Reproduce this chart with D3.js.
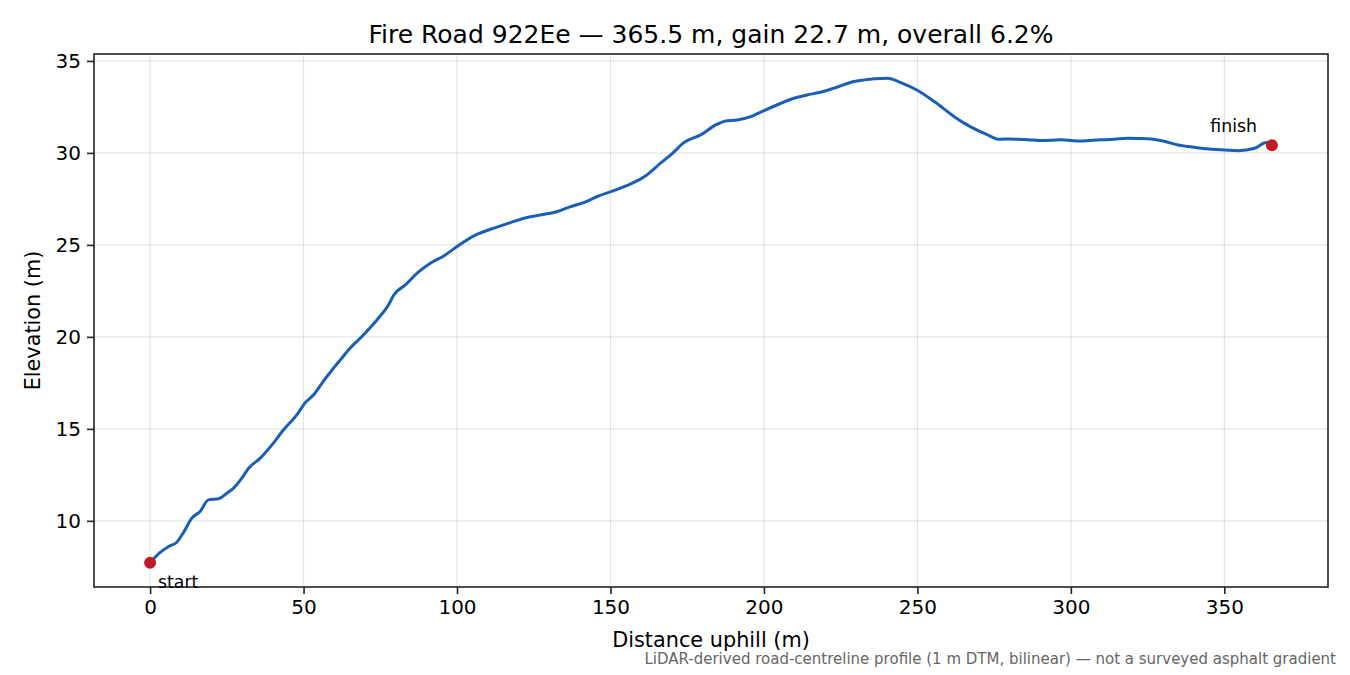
<!DOCTYPE html>
<html>
<head>
<meta charset="utf-8">
<script src="https://cdn.jsdelivr.net/npm/d3@7"></script>
<style>
  html, body { margin: 0; padding: 0; background: #fff; }
  svg { display: block; font-family: "DejaVu Sans", sans-serif; }
  .grid line { stroke: #000; stroke-opacity: 0.1; }
</style>
</head>
<body>
<div id="chart"></div>
<script>
// road profile: distance uphill (m) vs elevation (m)
const distances = [0, 3, 6, 8.7, 11, 13.6, 16.3, 19, 22.3, 25, 27.2, 30, 32.1, 35.9, 39.7, 43.5, 47.8, 50.6,
  53.3, 56.5, 59.3, 62, 65.2, 69, 73.9, 77.7, 79.4, 83.2, 87, 91.3, 95.7, 100, 105.5, 110.9, 117.4, 121.8,
  127.2, 131.6, 137, 141.3, 145.7, 151.1, 156.6, 161.4, 166.3, 170.2, 173.9, 179.4, 184.3, 187.5, 191.3,
  195.7, 200, 205.5, 209.8, 214, 218, 222.9, 229.4, 232.7, 236, 240.3, 244.6, 250.1, 255.5, 262, 267.5,
  272.9, 276.7, 280, 282.7, 286, 290.3, 296.8, 303.3, 306, 309.9, 314, 318.6, 322, 326.2, 330, 334.9, 338,
  342.5, 346, 350.1, 354.5, 359.9, 363.7, 365.5];
const elevations = [7.72, 8.25, 8.6, 8.84, 9.4, 10.15, 10.51, 11.14, 11.2, 11.5, 11.78, 12.35, 12.86, 13.41,
  14.13, 14.95, 15.76, 16.43, 16.85, 17.6, 18.2, 18.75, 19.39, 20.02, 20.92, 21.74, 22.28, 22.83, 23.46, 24.0,
  24.4, 24.91, 25.49, 25.85, 26.21, 26.45, 26.63, 26.76, 27.08, 27.3, 27.63, 27.95, 28.32, 28.75, 29.44,
  29.98, 30.56, 30.98, 31.52, 31.74, 31.79, 31.97, 32.3, 32.7, 32.97, 33.15, 33.28, 33.52, 33.88, 33.97,
  34.03, 34.06, 33.82, 33.39, 32.79, 31.97, 31.4, 30.98, 30.74, 30.76, 30.74, 30.72, 30.67, 30.71, 30.65,
  30.68, 30.71, 30.74, 30.8, 30.79, 30.76, 30.65, 30.43, 30.35, 30.25, 30.2, 30.16, 30.12, 30.25, 30.56, 30.42];
const xTicks = [0, 50, 100, 150, 200, 250, 300, 350];
const yTicks = [10, 15, 20, 25, 30, 35];
const endpoints = [
  { label: "start", d: distances[0], e: elevations[0] },
  { label: "finish", d: distances[distances.length - 1], e: elevations[elevations.length - 1] },
];

const width = 1350;
const height = 675;
const margin = { top: 54, right: 22, bottom: 88, left: 94 };

const svg = d3.select("#chart").append("svg")
  .attr("width", width)
  .attr("height", height)
  .attr("viewBox", `0 0 ${width} ${height}`);

// matplotlib-style 5% margins around the data
const xExt = d3.extent(distances);
const yExt = d3.extent(elevations);
const xPad = (xExt[1] - xExt[0]) * 0.05;
const yPad = (yExt[1] - yExt[0]) * 0.05;

const x = d3.scaleLinear()
  .domain([xExt[0] - xPad, xExt[1] + xPad])
  .range([margin.left, width - margin.right]);
const y = d3.scaleLinear()
  .domain([yExt[0] - yPad, yExt[1] + yPad])
  .range([height - margin.bottom, margin.top]);

// grid
const grid = svg.append("g").attr("class", "grid");
grid.selectAll("line.v").data(xTicks).join("line")
  .attr("class", "v")
  .attr("x1", (d) => x(d)).attr("x2", (d) => x(d))
  .attr("y1", margin.top).attr("y2", height - margin.bottom)
  .attr("stroke-width", 1.2);
grid.selectAll("line.h").data(yTicks).join("line")
  .attr("class", "h")
  .attr("y1", (d) => y(d)).attr("y2", (d) => y(d))
  .attr("x1", margin.left).attr("x2", width - margin.right)
  .attr("stroke-width", 1.2);

// profile line
const pts = distances.map((d, i) => [d, elevations[i]]);
svg.append("path")
  .datum(pts)
  .attr("fill", "none")
  .attr("stroke", "#1a5fb4")
  .attr("stroke-width", 3)
  .attr("stroke-linejoin", "round")
  .attr("d", d3.line().x((p) => x(p[0])).y((p) => y(p[1])).curve(d3.curveMonotoneX));

// axes
const xAxis = svg.append("g")
  .attr("transform", `translate(0,${height - margin.bottom})`)
  .call(d3.axisBottom(x).tickValues(xTicks).tickSize(7).tickPadding(6).tickSizeOuter(0));
const yAxis = svg.append("g")
  .attr("transform", `translate(${margin.left},0)`)
  .call(d3.axisLeft(y).tickValues(yTicks).tickSize(7).tickPadding(6).tickSizeOuter(0));
[xAxis, yAxis].forEach((g) => {
  g.selectAll("text").attr("font-size", 20).attr("fill", "#000").attr("font-family", "DejaVu Sans");
  g.selectAll("line").attr("stroke", "#222").attr("stroke-width", 1.6);
  g.select(".domain").remove();
});

// frame
svg.append("rect")
  .attr("x", margin.left).attr("y", margin.top)
  .attr("width", width - margin.left - margin.right)
  .attr("height", height - margin.top - margin.bottom)
  .attr("fill", "none").attr("stroke", "#222").attr("stroke-width", 1.6);

// endpoints
svg.append("g").selectAll("circle").data(endpoints).join("circle")
  .attr("cx", (d) => x(d.d)).attr("cy", (d) => y(d.e))
  .attr("r", 6).attr("fill", "#c01c28");

svg.append("text")
  .attr("x", x(endpoints[0].d) + 8).attr("y", y(endpoints[0].e) + 25)
  .attr("font-size", 17.3).text(endpoints[0].label);
svg.append("text")
  .attr("x", x(endpoints[1].d) - 15).attr("y", y(endpoints[1].e) - 13)
  .attr("text-anchor", "end")
  .attr("font-size", 17.3).text(endpoints[1].label);

// labels
const cx = (margin.left + width - margin.right) / 2;
svg.append("text")
  .attr("x", cx).attr("y", 43)
  .attr("text-anchor", "middle").attr("font-size", 25)
  .text("Fire Road 922Ee — 365.5 m, gain 22.7 m, overall 6.2%");
svg.append("text")
  .attr("x", cx).attr("y", 647)
  .attr("text-anchor", "middle").attr("font-size", 20.8)
  .text("Distance uphill (m)");
svg.append("text")
  .attr("transform", `translate(40,${(margin.top + height - margin.bottom) / 2}) rotate(-90)`)
  .attr("text-anchor", "middle").attr("font-size", 20.8)
  .text("Elevation (m)");
svg.append("text")
  .attr("x", 1336).attr("y", 664)
  .attr("text-anchor", "end").attr("font-size", 15).attr("fill", "#666")
  .text("LiDAR-derived road-centreline profile (1 m DTM, bilinear) — not a surveyed asphalt gradient");
</script>
</body>
</html>
